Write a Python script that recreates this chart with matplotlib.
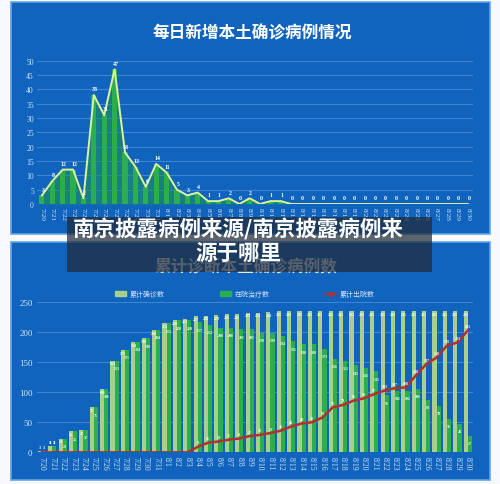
import matplotlib
matplotlib.use('Agg')
import matplotlib.pyplot as plt
from matplotlib.patches import Rectangle
from matplotlib.lines import Line2D
import numpy as np

plt.rcParams['font.family'] = ['Noto Sans CJK SC', 'DejaVu Sans']

dates = ['7/20', '7/21', '7/22', '7/23', '7/24', '7/25', '7/26', '7/27', '7/28', '7/29',
         '7/30', '7/31', '8/1', '8/2', '8/3', '8/4', '8/5', '8/6', '8/7', '8/8',
         '8/9', '8/10', '8/11', '8/12', '8/13', '8/14', '8/15', '8/16', '8/17', '8/18',
         '8/19', '8/20', '8/21', '8/22', '8/23', '8/24', '8/25', '8/26', '8/27', '8/28',
         '8/29', '8/30']

daily_new = [3, 8, 12, 12, 2, 38, 31, 47, 18, 13, 6, 14, 11, 5, 3, 4, 1, 1, 2, 0,
             2, 0, 1, 1, 0, 0, 0, 0, 0, 0, 0, 0, 0, 0, 0, 0, 0, 0, 0, 0, 0, 0]

cum_confirmed = [3, 11, 23, 35, 37, 75, 106, 153, 171, 184, 190, 204, 215, 220, 223, 227,
                 228, 229, 231, 231, 233, 233, 234, 235, 235, 235, 235, 235, 235, 235,
                 235, 235, 235, 235, 235, 235, 235, 235, 235, 235, 235, 235]

in_hospital = [3, 11, 23, 35, 37, 75, 106, 153, 171, 184, 190, 204, 215, 220, 220, 217,
               212, 208, 208, 205, 205, 199, 199, 194, 185, 180, 180, 173, 156, 152,
               145, 141, 135, 95, 102, 102, 106, 88, 78, 56, 48, 27]

cum_discharged = [0, 0, 0, 0, 0, 0, 0, 0, 0, 0, 0, 0, 0, 0, 0, 9,
                  16, 18, 21, 23, 27, 29, 32, 36, 43, 48, 50, 58, 75, 79,
                  86, 90, 97, 103, 107, 108, 128, 147, 158, 178, 183, 203]

top_yticks = [0, 5, 10, 15, 20, 25, 30, 35, 40, 45, 50]
bottom_yticks = [0, 50, 100, 150, 200, 250]

title_top = '每日新增本土确诊病例情况'
title_bottom = '累计诊断本土确诊病例数'
legend_labels = ['累计确诊数', '在院治疗数', '累计出院数']
caption = '南京披露病例来源/南京披露病例来\n源于哪里'

BLUE = '#1064be'
GRID = '#3f85d2'
TICK = '#d2e2f3'
BAR_GREEN = '#2bae4e'
LIGHT_BAR = '#a8d08a'
LINE_TOP = '#dcf39c'
RED = '#b3302c'
NUM_FONT = ['Liberation Serif', 'DejaVu Serif']

W, H = 500, 485
fig = plt.figure(figsize=(5, 4.85), dpi=100, facecolor='#f7f9fc')


def fx(px):
    return px / W


def fy(py):
    return 1 - py / H


def bar_label(ax, xpos, val, drop):
    # small values get their label above the bar, the rest just inside the top
    if val < 20:
        ax.text(xpos, val + 2, str(val), ha='center', va='bottom', fontsize=2.8,
                color='white', fontweight='bold', family=NUM_FONT, zorder=5)
    else:
        ax.text(xpos, val - drop, str(val), ha='center', va='top', fontsize=2.8,
                color='white', fontweight='bold', family=NUM_FONT, zorder=5)


# blue panels
for top, bot in [(3, 235), (243, 481)]:
    fig.patches.append(Rectangle((fx(11), fy(bot)), fx(479), (bot - top) / H,
                                 transform=fig.transFigure, facecolor=BLUE,
                                 edgecolor='#62a6e8', lw=1.2, zorder=-1))

x = np.arange(len(dates))

# ---- top chart
ax1 = fig.add_axes([fx(36.7), fy(205), fx(436.3), (205 - 61.7) / H])
ax1.set_facecolor('none')
ax1.bar(x, daily_new, width=0.5, color=BAR_GREEN, zorder=2)
ax1.fill_between(x, daily_new, color='#1e9a45', alpha=0.5, lw=0, zorder=1.5)
ax1.plot(x, daily_new, color=LINE_TOP, lw=1.4, zorder=3)
for i, v in enumerate(daily_new):
    ax1.text(i + 0.1, v + 1.3, str(v), ha='center', va='bottom', fontsize=4.2,
             color='white', fontweight='bold', family=NUM_FONT, zorder=4)
ax1.set_xlim(-0.5, len(dates) - 0.5)
ax1.set_ylim(0, 50)
ax1.set_yticks(top_yticks)
ax1.set_yticklabels([str(t) for t in top_yticks], fontsize=5.5, color=TICK, family=NUM_FONT)
ax1.set_xticks(x)
ax1.set_xticklabels(dates, rotation=270, fontsize=5.3, color=TICK, family=NUM_FONT)
ax1.tick_params(length=0, pad=2)
ax1.grid(axis='y', color=GRID, lw=0.8)
ax1.set_axisbelow(True)
for s in ax1.spines.values():
    s.set_visible(False)

fig.text(fx(252), fy(33), title_top, ha='center', va='center', fontsize=12,
         color='white', fontweight='bold')

# ---- bottom chart
ax2 = fig.add_axes([fx(36.7), fy(453.3), fx(436.3), 150 / H])
ax2.set_facecolor('none')
bw = 0.4
ax2.bar(x - bw / 2, cum_confirmed, width=bw, color=LIGHT_BAR, zorder=2)
ax2.bar(x + bw / 2, in_hospital, width=bw, color=BAR_GREEN, zorder=2)
ax2.plot(x, cum_discharged, color=RED, lw=1.8, zorder=4)
for i in range(len(dates)):
    bar_label(ax2, i - bw / 2, cum_confirmed[i], 1.5)
    bar_label(ax2, i + bw / 2, in_hospital[i], 9)
    if cum_discharged[i] > 0:
        ax2.text(i, cum_discharged[i] + 4, str(cum_discharged[i]), ha='center', va='bottom',
                 fontsize=2.8, color='white', fontweight='bold', family=NUM_FONT, zorder=5)
ax2.set_xlim(-0.5, len(dates) - 0.5)
ax2.set_ylim(0, 250)
ax2.set_yticks(bottom_yticks)
ax2.set_yticklabels([str(t) for t in bottom_yticks], fontsize=6.5, color=TICK, family=NUM_FONT)
ax2.set_xticks(x)
ax2.set_xticklabels(dates, rotation=270, fontsize=5.5, color=TICK, family=NUM_FONT)
ax2.tick_params(length=0, pad=3)
ax2.grid(axis='y', color=GRID, lw=0.8)
ax2.set_axisbelow(True)
for s in ax2.spines.values():
    s.set_visible(False)

handles = [Rectangle((0, 0), 1, 1, color=LIGHT_BAR),
           Rectangle((0, 0), 1, 1, color=BAR_GREEN),
           Line2D([], [], color=RED, lw=1.5, marker='o', ms=2.5)]
fig.legend(handles, legend_labels, loc='center', bbox_to_anchor=(fx(245), fy(295)),
           ncol=3, frameon=False, fontsize=5, labelcolor=TICK, columnspacing=8,
           handlelength=1.6, handleheight=0.6, handletextpad=0.5)

fig.text(fx(246), fy(267), title_bottom, ha='center', va='center', fontsize=12,
         color='#e8eef5', fontweight='bold', zorder=1)

# caption overlay
fig.patches.append(Rectangle((fx(66.7), fy(273)), fx(365), 55 / H, transform=fig.transFigure,
                             facecolor='#202a38', alpha=0.72, lw=0, zorder=5))
fig.text(fx(238), fy(241.5), caption, ha='center', va='center', fontsize=15.5,
         color='white', fontweight='bold', linespacing=1.15, zorder=6)

fig.savefig('out.png', dpi=100, facecolor=fig.get_facecolor())
